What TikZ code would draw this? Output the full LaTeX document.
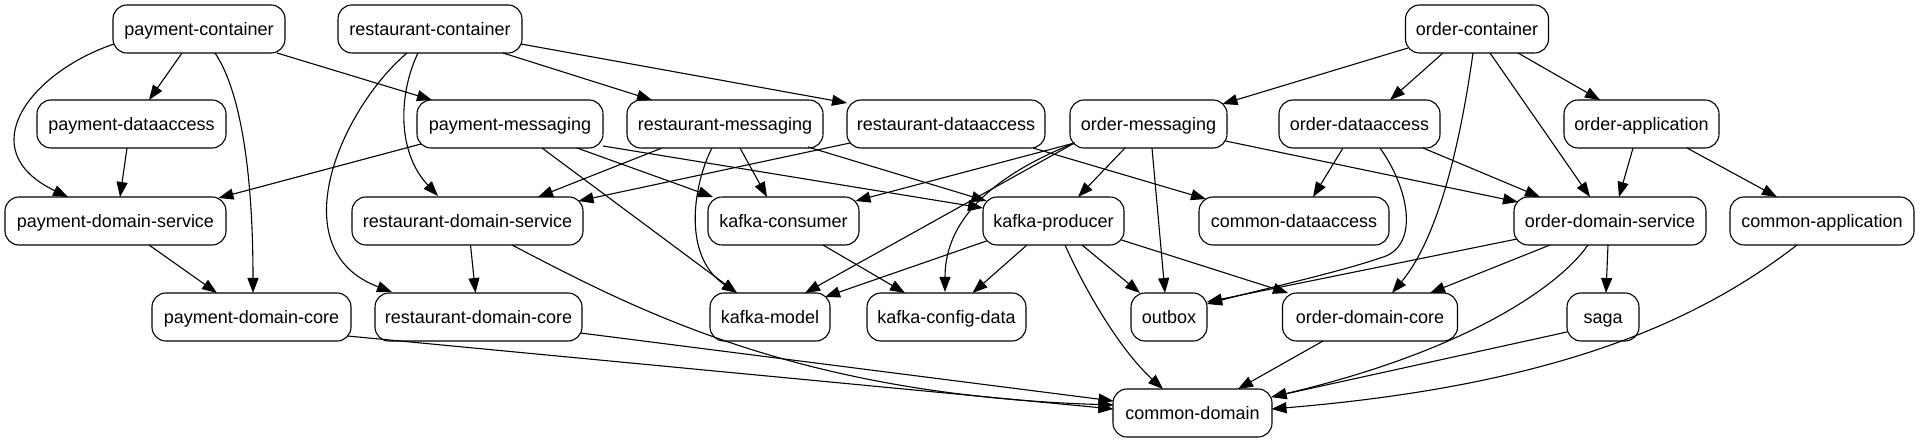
\documentclass[tikz,border=0pt]{standalone}
\usepackage{fontspec}
\setmainfont{Liberation Sans}
\usetikzlibrary{arrows.meta,calc}
\tikzset{
  box/.style={draw, line width=1.1pt, rounded corners=14pt, minimum height=48pt,
    inner xsep=0pt, inner ysep=0pt, text height=18pt, text depth=4pt,
    font=\fontsize{18}{21}\selectfont},
  edge/.style={-{Triangle[length=15pt,width=11pt]}, line width=1.1pt},
}
\begin{document}
\begin{tikzpicture}[x=1pt,y=-1pt]
\useasboundingbox (0,0) rectangle (1920,443);
% row 1
\node[box, minimum width=172pt] (pc) at (199,29) {payment-container};
\node[box, minimum width=184pt] (rc) at (430,29) {restaurant-container};
\node[box, minimum width=143pt] (oc) at (1477,29) {order-container};
% row 2
\node[box, minimum width=189pt] (pda) at (131.5,124) {payment-dataaccess};
\node[box, minimum width=186pt] (pm) at (510,124) {payment-messaging};
\node[box, minimum width=196pt] (rm) at (725,124) {restaurant-messaging};
\node[box, minimum width=198pt] (rda) at (946,124) {restaurant-dataaccess};
\node[box, minimum width=157pt] (om) at (1148.5,124) {order-messaging};
\node[box, minimum width=161pt] (oda) at (1359.5,124) {order-dataaccess};
\node[box, minimum width=155pt] (oa) at (1641.5,124) {order-application};
% row 3
\node[box, minimum width=221pt] (pds) at (115.5,221) {payment-domain-service};
\node[box, minimum width=231pt] (rds) at (467.5,221) {restaurant-domain-service};
\node[box, minimum width=151pt] (kc) at (783.5,221) {kafka-consumer};
\node[box, minimum width=141pt] (kp) at (1053.5,221) {kafka-producer};
\node[box, minimum width=190pt] (cda) at (1294,221) {common-dataaccess};
\node[box, minimum width=192pt] (ods) at (1610,221) {order-domain-service};
\node[box, minimum width=184pt] (ca) at (1822,221) {common-application};
% row 4
\node[box, minimum width=199pt] (pdc) at (251.5,317) {payment-domain-core};
\node[box, minimum width=207pt] (rdc) at (478.5,317) {restaurant-domain-core};
\node[box, minimum width=120pt] (km) at (770,317) {kafka-model};
\node[box, minimum width=159pt] (kcd) at (946.5,317) {kafka-config-data};
\node[box, minimum width=76pt] (ob) at (1169,317) {outbox};
\node[box, minimum width=175pt] (odc) at (1370,317) {order-domain-core};
\node[box, minimum width=72pt] (saga) at (1603,317) {saga};
% row 5
\node[box, minimum width=159pt] (cd) at (1192.5,413) {common-domain};

% payment-container
\draw[edge] ($(pc)+(-17,24)$) -- ($(pda)+(17.5,-24)$);
\draw[edge] ($(pc)+(-85,15)$) .. controls +(-83,28) and +(-98,-47) .. ($(pds)+(-47.5,-24)$);
\draw[edge] ($(pc)+(16,24)$) .. controls +(25,37) and +(0,-123) .. ($(pdc)+(1.5,-24)$);
\draw[edge] ($(pc)+(78,24)$) -- ($(pm)+(-78,-24)$);
% restaurant-container
\draw[edge] ($(rc)+(-12,24)$) .. controls +(-18,37) and +(-43,-46) .. ($(rds)+(-29.5,-25)$);
\draw[edge] ($(rc)+(-23,24)$) .. controls +(-67,57) and +(-112,-42) .. ($(rdc)+(-86.5,-25)$);
\draw[edge] ($(rc)+(73,24)$) -- ($(rm)+(-73,-24)$);
\draw[edge] ($(rc)+(91,15)$) -- ($(rda)+(-99,-21)$);
% payment-messaging
\draw[edge] ($(pm)+(-89,20)$) -- ($(pds)+(103,-23)$);
\draw[edge] ($(pm)+(32,24)$) -- ($(km)+(-33,-24)$);
\draw[edge] ($(pm)+(67,24)$) -- ($(kc)+(-70.5,-24)$);
\draw[edge] ($(pm)+(93,22)$) -- ($(kp)+(-70.5,-13)$);
% restaurant-messaging
\draw[edge] ($(rm)+(-63,24)$) -- ($(rds)+(70.5,-24)$);
\draw[edge] ($(rm)+(-13,24)$) .. controls +(-17,32) and +(-57,-38) .. ($(km)+(-33,-24)$);
\draw[edge] ($(rm)+(15,24)$) -- ($(kc)+(-16.5,-24)$);
\draw[edge] ($(rm)+(83,23)$) -- ($(kp)+(-67,-20)$);
% restaurant-dataaccess
\draw[edge] ($(rda)+(-96,19)$) -- ($(rds)+(111,-20)$);
\draw[edge] ($(rda)+(87,24)$) -- ($(cda)+(-88,-22)$);
% order-container
\draw[edge] ($(oc)+(-69,19)$) -- ($(om)+(74,-20)$);
\draw[edge] ($(oc)+(-34,24)$) -- ($(oda)+(30.5,-24)$);
\draw[edge] ($(oc)+(41,24)$) -- ($(oa)+(-41.5,-24)$);
\draw[edge] ($(oc)+(13,24)$) -- ($(ods)+(-20,-24)$);
\draw[edge] ($(oc)+(-4,24)$) .. controls +(-8,57) and +(53,-63) .. ($(odc)+(22,-24)$);
% order-messaging
\draw[edge] ($(om)+(-74,19)$) -- ($(kc)+(72,-20)$);
\draw[edge] ($(om)+(-74,19)$) -- ($(km)+(35,-24)$);
\draw[edge] ($(om)+(-74,19)$) .. controls +(-82.5,33) and +(0,-72) .. ($(kcd)+(-1.5,-25)$);
\draw[edge] ($(om)+(-23.5,24)$) -- ($(kp)+(24.5,-24)$);
\draw[edge] ($(om)+(3.5,24)$) -- ($(ob)+(-4,-24)$);
\draw[edge] ($(om)+(77,17)$) -- ($(ods)+(-92,-19)$);
% order-dataaccess
\draw[edge] ($(oda)+(-16.5,24)$) -- ($(cda)+(19,-24)$);
\draw[edge] ($(oda)+(20.5,24)$) .. controls +(30,42) and +(40,-10) .. ($(oda)+(20.5,134)$)
   .. controls +(-40,14) and +(48,-13) .. ($(ob)+(38,-13)$);
\draw[edge] ($(oda)+(63.5,24)$) -- ($(ods)+(-70,-24)$);
% order-application
\draw[edge] ($(oa)+(-8.5,24)$) -- ($(ods)+(9,-24)$);
\draw[edge] ($(oa)+(45.5,24)$) -- ($(ca)+(-45,-24)$);
% order-domain-service
\draw[edge] ($(ods)+(-93,18)$) -- ($(ob)+(38,-15)$);
\draw[edge] ($(ods)+(-60,24)$) -- ($(odc)+(60,-24)$);
\draw[edge] ($(ods)+(-22,24)$) .. controls +(-28,40) and +(198.5,-47) .. ($(cd)+(79,-16)$);
\draw[edge] ($(ods)+(-2,24)$) -- ($(saga)+(3,-24)$);
% common-application, saga, order-domain-core
\draw[edge] ($(ca)+(-25,24)$) .. controls +(-97,75) and +(288.5,-24) .. ($(cd)+(79,-4)$);
\draw[edge] ($(saga)+(-36,15)$) -- ($(cd)+(79,-16)$);
\draw[edge] ($(odc)+(-47,24)$) -- ($(cd)+(45.5,-24)$);
% kafka-producer
\draw[edge] ($(kp)+(-67,20)$) -- ($(km)+(55,-20)$);
\draw[edge] ($(kp)+(-26.5,24)$) -- ($(kcd)+(26,-24)$);
\draw[edge] ($(kp)+(28.5,24)$) -- ($(ob)+(-29,-24)$);
\draw[edge] ($(kp)+(11.5,24)$) .. controls +(20,45) and +(-43,-39) .. ($(cd)+(-29.5,-24)$);
\draw[edge] ($(kp)+(68,19)$) -- ($(odc)+(-82,-24)$);
% kafka-consumer
\draw[edge] ($(kc)+(39.5,24)$) -- ($(kcd)+(-41.5,-24)$);
% payment side
\draw[edge] ($(pda)+(-4.5,24)$) -- ($(pds)+(4.5,-24)$);
\draw[edge] ($(pds)+(33.5,24)$) -- ($(pdc)+(-34.5,-24)$);
\draw[edge] ($(pdc)+(96,19)$) -- ($(cd)+(-79,-4)$);
% restaurant side
\draw[edge] ($(rds)+(3,24)$) -- ($(rdc)+(-3,-24)$);
\draw[edge] ($(rds)+(44.5,24)$) .. controls +(128,67) and +(-313.5,-10) .. ($(cd)+(-79,-8)$);
\draw[edge] ($(rdc)+(102,16)$) -- ($(cd)+(-79,-12)$);
\end{tikzpicture}
\end{document}
